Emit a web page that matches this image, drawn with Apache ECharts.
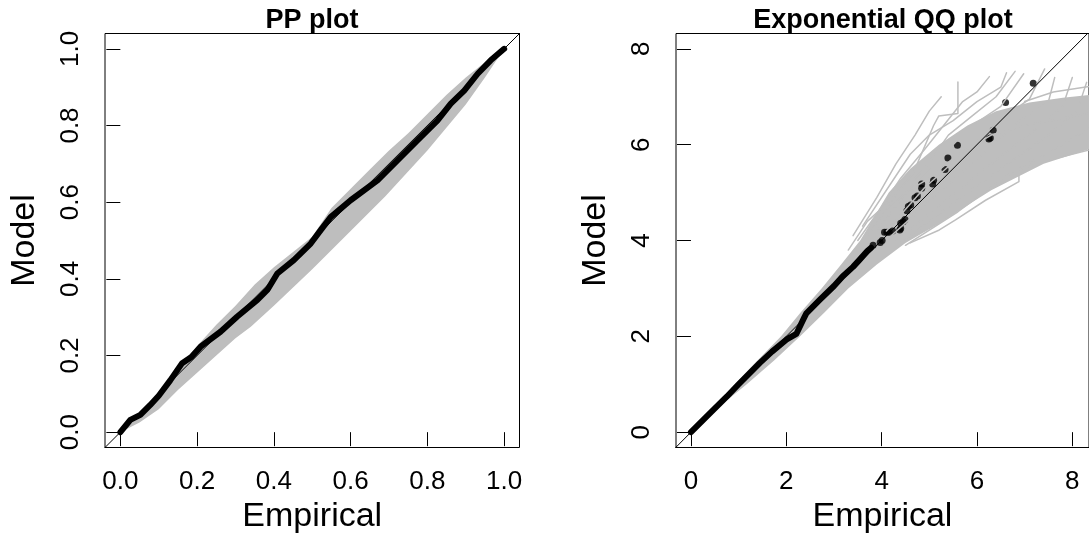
<!DOCTYPE html>
<html>
<head>
<meta charset="utf-8">
<title>PP plot / Exponential QQ plot</title>
<script src="https://cdn.jsdelivr.net/npm/echarts@6/dist/echarts.min.js"></script>
<style>
  html, body { margin: 0; padding: 0; background: #fff; }
  #main { width: 1089px; height: 544px; }
</style>
</head>
<body>
<div id="main"></div>
<script>
// ---------- PP plot ----------
var ppTicks = [0, 0.2, 0.4, 0.6, 0.8, 1.0];
// observed points (empirical vs model probabilities)
var ppEmp = [0, 0.026, 0.052, 0.078, 0.10, 0.13, 0.161, 0.185, 0.209, 0.261, 0.304, 0.357, 0.383, 0.409, 0.452, 0.496, 0.522, 0.548, 0.60, 0.67, 0.722, 0.774, 0.826, 0.861, 0.896, 0.931, 0.965, 1.0];
var ppMod = [0, 0.032, 0.045, 0.071, 0.095, 0.135, 0.180, 0.196, 0.223, 0.262, 0.301, 0.345, 0.371, 0.414, 0.449, 0.492, 0.527, 0.561, 0.605, 0.657, 0.709, 0.761, 0.813, 0.857, 0.891, 0.935, 0.970, 1.0];
// envelope of the simulated (grey) curves
var ppSimUpper = [[0, 0], [0.05, 0.05], [0.1, 0.10], [0.15, 0.16], [0.2, 0.225], [0.25, 0.28], [0.3, 0.33], [0.35, 0.385], [0.4, 0.43], [0.45, 0.47], [0.5, 0.51], [0.55, 0.585], [0.6, 0.635], [0.65, 0.685], [0.7, 0.735], [0.75, 0.78], [0.8, 0.83], [0.85, 0.88], [0.9, 0.925], [0.95, 0.965], [1, 1]];
var ppSimLower = [[0, 0], [0.05, 0.025], [0.1, 0.06], [0.15, 0.11], [0.2, 0.155], [0.3, 0.245], [0.34, 0.275], [0.4, 0.33], [0.5, 0.425], [0.6, 0.525], [0.69, 0.615], [0.8, 0.735], [0.9, 0.855], [0.95, 0.925], [1, 1]];

// ---------- Exponential QQ plot ----------
var qqTicks = [0, 2, 4, 6, 8];
// dense part of the observed quantiles
var qqEmpDense = [0, 0.3, 0.75, 1.0, 1.44, 1.7, 2.0, 2.21, 2.37, 2.42, 2.7, 3.0, 3.18, 3.4, 3.53, 3.7, 3.78];
var qqModDense = [0, 0.3, 0.74, 1.0, 1.44, 1.68, 1.93, 2.05, 2.38, 2.48, 2.76, 3.05, 3.25, 3.45, 3.59, 3.78, 3.85];
// upper tail, single points
var qqEmpTail = [3.82, 3.97, 4.01, 4.06, 4.11, 4.16, 4.23, 4.38, 4.40, 4.40, 4.45, 4.49, 4.53, 4.56, 4.61, 4.70, 4.75, 4.84, 4.84, 5.07, 5.09, 5.33, 5.39, 5.59, 6.25, 6.28, 6.34, 6.60, 7.18];
var qqModTail = [3.90, 3.96, 4.00, 4.17, 4.17, 4.17, 4.20, 4.22, 4.25, 4.36, 4.39, 4.44, 4.62, 4.71, 4.74, 4.89, 4.93, 5.09, 5.18, 5.18, 5.26, 5.48, 5.72, 5.99, 6.12, 6.14, 6.30, 6.88, 7.28];
// envelope of the dense simulated curves
var qqSimUpper = [[0, 0], [0.45, 0.5], [0.92, 1.0], [1.4, 1.5], [1.89, 2.0], [2.3, 2.5], [2.74, 3.0], [3.15, 3.5], [3.55, 4.0], [3.85, 4.5], [4.15, 5.0], [4.6, 5.5], [5.2, 6.0], [5.8, 6.4], [6.4, 6.7], [7.1, 6.88], [7.8, 6.98], [8.5, 7.05]];
var qqSimLower = [[0, 0], [0.55, 0.5], [1.17, 1.0], [1.75, 1.5], [2.29, 2.0], [2.8, 2.5], [3.3, 3.0], [3.9, 3.5], [4.5, 3.95], [5.2, 4.35], [5.9, 4.8], [6.3, 5.05], [6.6, 5.2], [7.4, 5.6], [8.5, 5.95]];
// single simulated curves that leave the dense band
var qqSimLines = [
  [[3.3, 3.8], [3.7, 4.4], [4.2, 4.85], [4.66, 5.4], [5.09, 6.4], [5.2, 6.6], [5.6, 6.65], [5.6, 7.31]],
  [[3.5, 4.0], [4.0, 4.7], [4.4, 5.3], [4.9, 5.9], [5.3, 6.4], [5.7, 6.9], [6.0, 7.1], [6.26, 7.42]],
  [[3.7, 4.1], [4.3, 4.9], [4.9, 5.5], [5.4, 6.2], [5.9, 6.6], [6.4, 7.0], [6.8, 7.53]],
  [[3.9, 4.2], [4.6, 5.1], [5.3, 5.8], [5.9, 6.4], [6.5, 6.8], [6.98, 7.48]],
  [[4.1, 4.2], [4.9, 5.1], [5.8, 5.9], [6.6, 6.6], [7.1, 6.95], [7.42, 7.58]],
  [[4.2, 4.1], [5.1, 4.9], [6.0, 5.7], [6.9, 6.5], [7.5, 6.9], [7.63, 7.4]],
  [[4.3, 4.0], [5.3, 4.8], [6.3, 5.6], [7.2, 6.3], [7.8, 6.8], [8.0, 7.4]],
  [[4.4, 3.95], [5.4, 4.7], [6.5, 5.5], [7.5, 6.2], [8.1, 6.7], [8.3, 7.3]],
  [[4.5, 3.9], [5.6, 4.6], [6.7, 5.4], [7.8, 6.0], [8.6, 6.5]],
  [[4.6, 3.95], [5.21, 4.22], [5.55, 4.43], [6.18, 4.84], [6.88, 5.23], [6.88, 5.47], [7.6, 5.7], [8.6, 5.95]],
  [[4.0, 4.5], [4.5, 5.0], [5.0, 5.3], [5.6, 5.8], [6.3, 6.2], [7.0, 6.4], [8.6, 6.7]],
  [[3.6, 4.3], [4.2, 5.2], [4.6, 5.8], [5.0, 6.2], [5.5, 6.5], [6.0, 6.9], [6.5, 7.2], [6.62, 7.5]],
  [[3.4, 4.1], [3.9, 4.9], [4.3, 5.6], [4.7, 6.2], [5.0, 6.7], [5.25, 7.0]],
  [[7.0, 6.9], [7.6, 7.1], [8.6, 7.25]]
];
// y = x reference line
var refLine = [[-1, -1], [10, 10]];

var grey = '#bebebe';
var fontFam = '"Liberation Sans", Arial, Helvetica, sans-serif';

function pairs(xs, ys) {
  return xs.map(function (x, i) { return [x, ys[i]]; });
}

function bandSeries(upper, lower, idx) {
  var pts = upper.concat(lower.slice().reverse());
  return {
    type: 'custom', xAxisIndex: idx, yAxisIndex: idx, silent: true, clip: true,
    data: [[0, 0]],
    renderItem: function (params, api) {
      return {
        type: 'polygon',
        shape: { points: pts.map(function (p) { return api.coord(p); }) },
        style: { fill: grey }
      };
    }
  };
}

function lineSeries(data, idx, color, width) {
  return {
    type: 'line', xAxisIndex: idx, yAxisIndex: idx, data: data,
    showSymbol: false, silent: true, clip: true,
    lineStyle: { color: color, width: width, cap: 'round', join: 'round' }
  };
}

function xAxisOf(idx, min, max, ticks, fmt) {
  return {
    gridIndex: idx, type: 'value', min: min, max: max,
    axisLine: { show: false }, splitLine: { show: false },
    axisTick: { show: true, inside: false, length: 14, customValues: ticks, lineStyle: { color: '#000', width: 1 } },
    axisLabel: { customValues: ticks, formatter: fmt, margin: 34, verticalAlign: 'middle',
                 fontSize: 26, color: '#000', fontFamily: fontFam },
    name: 'Empirical', nameLocation: 'middle', nameGap: 64,
    nameTextStyle: { fontSize: 34, color: '#000', fontFamily: fontFam, verticalAlign: 'middle' }
  };
}

function yAxisOf(idx, min, max, ticks, fmt) {
  return {
    gridIndex: idx, type: 'value', min: min, max: max,
    axisLine: { show: false }, splitLine: { show: false },
    axisTick: { show: true, inside: false, length: 14, customValues: ticks, lineStyle: { color: '#000', width: 1 } },
    axisLabel: { customValues: ticks, formatter: fmt, margin: 34, rotate: 90, align: 'center', verticalAlign: 'middle',
                 fontSize: 26, color: '#000', fontFamily: fontFam },
    name: 'Model', nameLocation: 'middle', nameGap: 80, nameRotate: 90,
    nameTextStyle: { fontSize: 34, color: '#000', fontFamily: fontFam, verticalAlign: 'middle' }
  };
}

var fmt1 = function (v) { return v.toFixed(1); };
var fmt0 = function (v) { return String(v); };

var myChart = echarts.init(document.getElementById('main'));
var option = {
  animation: false,
  backgroundColor: '#fff',
  grid: [
    { left: 105, top: 33.5, width: 414.5, height: 414, show: true, borderColor: '#000', borderWidth: 1 },
    { left: 676, top: 33.5, width: 414.5, height: 414, show: true, borderColor: '#000', borderWidth: 1 }
  ],
  graphic: [
    { type: 'text', x: 312, y: 20.5, style: { text: 'PP plot', font: 'bold 27px ' + fontFam, fill: '#000',
      align: 'center', verticalAlign: 'middle', textAlign: 'center', textVerticalAlign: 'middle' } },
    { type: 'text', x: 883, y: 20.5, style: { text: 'Exponential QQ plot', font: 'bold 27px ' + fontFam, fill: '#000',
      align: 'center', verticalAlign: 'middle', textAlign: 'center', textVerticalAlign: 'middle' } }
  ],
  xAxis: [
    xAxisOf(0, -0.04, 1.04, ppTicks, fmt1),
    xAxisOf(1, -0.314, 8.35, qqTicks, fmt0)
  ],
  yAxis: [
    yAxisOf(0, -0.04, 1.04, ppTicks, fmt1),
    yAxisOf(1, -0.32, 8.32, qqTicks, fmt0)
  ],
  series: []
};

// PP plot
option.series.push(bandSeries(ppSimUpper, ppSimLower, 0));
option.series.push(lineSeries(refLine, 0, '#000', 1));
option.series.push(lineSeries(pairs(ppEmp, ppMod), 0, '#000', 6));

// QQ plot
option.series.push(bandSeries(qqSimUpper, qqSimLower, 1));
qqSimLines.forEach(function (l) {
  option.series.push(lineSeries(l, 1, grey, 1.5));
});
option.series.push(lineSeries(refLine, 1, '#000', 1));
option.series.push(lineSeries(pairs(qqEmpDense, qqModDense), 1, '#000', 6));
option.series.push({
  type: 'scatter', xAxisIndex: 1, yAxisIndex: 1, silent: true,
  data: pairs(qqEmpTail, qqModTail),
  symbol: 'circle', symbolSize: 7,
  itemStyle: { color: '#000' }
});

if (option && typeof option === "object") {
  myChart.setOption(option, true);
}
</script>
</body>
</html>
